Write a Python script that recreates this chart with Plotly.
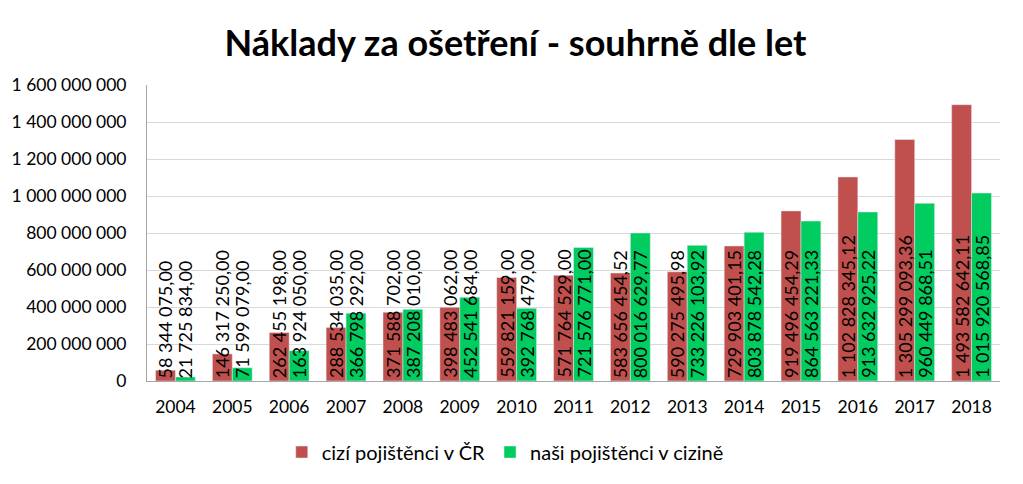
import plotly.graph_objects as go

years = ["2004", "2005", "2006", "2007", "2008", "2009", "2010", "2011",
         "2012", "2013", "2014", "2015", "2016", "2017", "2018"]
cizi = [58344075.00, 146317250.00, 262455198.00, 288534035.00, 371588702.00,
        398483062.00, 559821159.00, 571764529.00, 583656454.52, 590275495.98,
        729903401.15, 919496454.29, 1102828345.12, 1305299093.36, 1493582642.11]
nasi = [21725834.00, 71599079.00, 163924050.00, 366798292.00, 387208010.00,
        452541684.00, 392768479.00, 721576771.00, 800016629.77, 733226103.92,
        803878542.28, 864563221.33, 913632925.22, 960449868.51, 1015920568.85]
ytick_vals = [0, 200000000, 400000000, 600000000, 800000000, 1000000000,
              1200000000, 1400000000, 1600000000]

RED = "#C0504D"
GREEN = "#00CC5F"
FONT = "Lato"


def fmt(v, dec=2):
    s = f"{v:,.{dec}f}"
    return s.replace(",", " ").replace(".", ",")


fig = go.Figure()
fig.add_trace(go.Bar(x=years, y=cizi, name="cizí pojištěnci v ČR",
                     marker=dict(color=RED)))
fig.add_trace(go.Bar(x=years, y=nasi, name="naši pojištěnci v cizině",
                     marker=dict(color=GREEN)))

annotations = []
for i, yr in enumerate(years):
    for vals, shift in ((cizi, -10), (nasi, 10)):
        annotations.append(dict(
            x=i, y=0, xref="x", yref="y", xshift=shift, yshift=1,
            text=fmt(vals[i]), textangle=-90, showarrow=False,
            xanchor="center", yanchor="bottom",
            font=dict(family=FONT, size=18, color="#000000")))

fig.update_layout(
    width=1015, height=476,
    margin=dict(l=139, r=23, t=77, b=101),
    paper_bgcolor="white", plot_bgcolor="white",
    title=dict(text="<b>Náklady za ošetření - souhrně dle let</b>",
               x=0.5, xanchor="center", y=0.925, yanchor="middle",
               font=dict(family=FONT, size=36, color="#000000")),
    barmode="group", bargap=0.3, bargroupgap=0,
    font=dict(family=FONT, color="#000000"),
    xaxis=dict(type="category", range=[-0.5, len(years) - 0.5],
               showline=True, linecolor="#A6A6A6",
               linewidth=1, ticks="", tickfont=dict(size=17.5),
               ticklabelstandoff=10, automargin=False),
    yaxis=dict(range=[0, 1600000000], tickvals=ytick_vals,
               ticktext=[fmt(v, 0) for v in ytick_vals],
               showgrid=True, gridcolor="#D9D9D9", gridwidth=1,
               showline=True, linecolor="#A6A6A6", linewidth=1,
               zeroline=False, ticks="", tickfont=dict(size=17.5),
               ticklabelstandoff=16, automargin=False),
    legend=dict(orientation="h", x=0.42, xanchor="center",
                y=-0.24, yanchor="middle", font=dict(size=20), itemwidth=30,
                traceorder="normal"),
    annotations=annotations,
)

fig.write_html("out.html")
